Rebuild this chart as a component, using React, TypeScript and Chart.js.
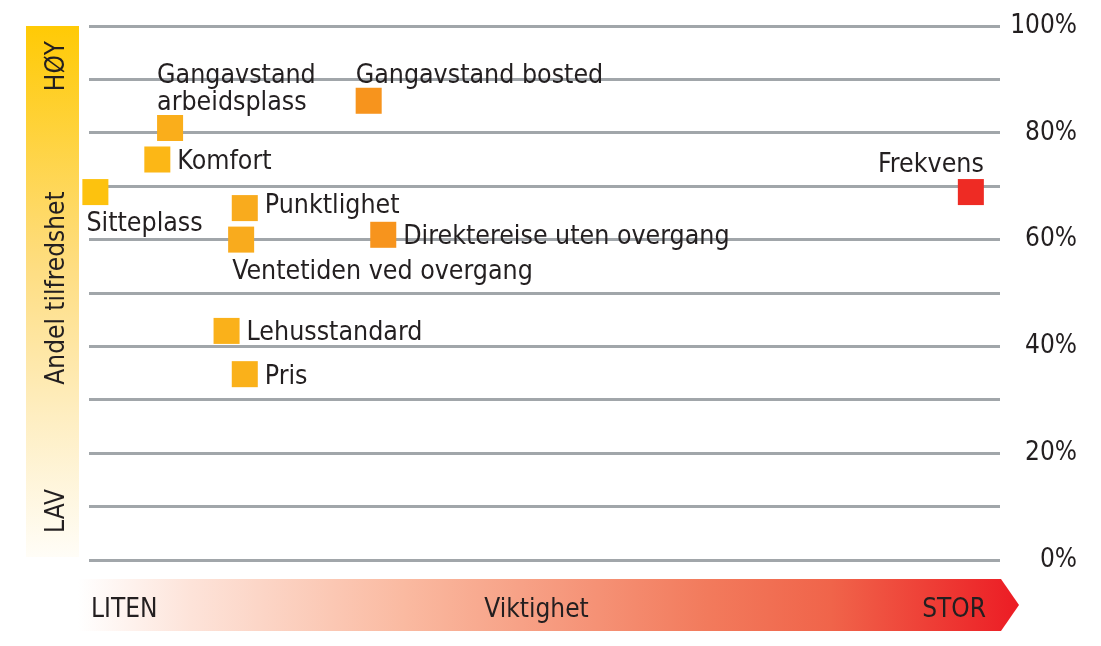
import React, { useEffect, useRef } from "react";
import { Chart, registerables } from "chart.js";

Chart.register(...registerables);

// ---- data ----
const categories = [
  "Sitteplass",
  "Komfort",
  "Gangavstand\narbeidsplass",
  "Gangavstand bosted",
  "Punktlighet",
  "Ventetiden ved overgang",
  "Direktereise uten overgang",
  "Lehusstandard",
  "Pris",
  "Frekvens",
];
const importance = [0.7, 7.5, 8.9, 30.7, 17.1, 16.7, 32.3, 15.1, 17.1, 96.8];
const satisfaction = [68.9, 75.0, 80.9, 86.0, 65.9, 60.0, 60.9, 42.9, 34.8, 68.9];
const labelPlacement = [
  "below",
  "right",
  "above",
  "above",
  "right-up",
  "below",
  "right",
  "right",
  "right",
  "above-end",
];
const pointColors = [
  "#FDC20E",
  "#FCB716",
  "#FAAE1B",
  "#F7941D",
  "#F9AB1D",
  "#F9AB1D",
  "#F7941D",
  "#FAB11A",
  "#FAB11A",
  "#EE2B24",
];
const yTicks = [0, 20, 40, 60, 80, 100];
const yAxisTitle = "Andel tilfredshet";
const yHigh = "HØY";
const yLow = "LAV";
const xAxisTitle = "Viktighet";
const xLow = "LITEN";
const xHigh = "STOR";

const FONT = '"DejaVu Sans Condensed", "DejaVu Sans", sans-serif';
const TEXT = "#231F20";

const decorPlugin = {
  id: "decor",
  beforeDraw(chart: any) {
    const ctx = chart.ctx as CanvasRenderingContext2D;
    const { top, bottom, left, right } = chart.chartArea;
    ctx.save();
    // left yellow bar
    const bx0 = 26, bx1 = 79;
    const g = ctx.createLinearGradient(0, top, 0, bottom - 3);
    g.addColorStop(0, "#FFCA05");
    g.addColorStop(0.45, "#FEDD80");
    g.addColorStop(0.72, "#FEEDBE");
    g.addColorStop(1, "#FFFDF7");
    ctx.fillStyle = g;
    ctx.fillRect(bx0, top, bx1 - bx0, bottom - 3 - top);
    // bottom arrow
    const ay0 = bottom + 19, ay1 = bottom + 71;
    const ax0 = 78, ax1 = right + 1, tip = right + 19;
    const g2 = ctx.createLinearGradient(ax0, 0, tip, 0);
    g2.addColorStop(0, "#FFFFFF");
    g2.addColorStop(0.12, "#FDE3D9");
    g2.addColorStop(0.35, "#FAB9A0");
    g2.addColorStop(0.67, "#F27A5C");
    g2.addColorStop(0.8, "#F0644A");
    g2.addColorStop(1, "#EC1C24");
    ctx.fillStyle = g2;
    ctx.beginPath();
    ctx.moveTo(ax0, ay0);
    ctx.lineTo(ax1, ay0);
    ctx.lineTo(tip, (ay0 + ay1) / 2);
    ctx.lineTo(ax1, ay1);
    ctx.lineTo(ax0, ay1);
    ctx.closePath();
    ctx.fill();

    ctx.fillStyle = TEXT;
    ctx.font = `26px ${FONT}`;
    ctx.textBaseline = "alphabetic";
    const by = bottom + 57;
    ctx.textAlign = "left";
    ctx.fillText(xLow, 91, by);
    ctx.textAlign = "center";
    ctx.fillText(xAxisTitle, (left + right) / 2 - 8, by);
    ctx.textAlign = "right";
    ctx.fillText(xHigh, 986, by);

    // rotated texts
    const rot = (t: string, cy: number) => {
      ctx.save();
      ctx.translate(64, cy);
      ctx.rotate(-Math.PI / 2);
      ctx.textAlign = "center";
      ctx.fillText(t, 0, 0);
      ctx.restore();
    };
    rot(yHigh, 66);
    rot(yAxisTitle, 288);
    rot(yLow, 511);
    ctx.restore();
  },
  afterDatasetsDraw(chart: any) {
    const ctx = chart.ctx as CanvasRenderingContext2D;
    const meta = chart.getDatasetMeta(0);
    ctx.save();
    ctx.fillStyle = TEXT;
    ctx.font = `26.5px ${FONT}`;
    ctx.textBaseline = "alphabetic";
    meta.data.forEach((pt: any, i: number) => {
      const lines = categories[i].split("\n");
      const p = labelPlacement[i];
      const x = pt.x, y = pt.y;
      const lh = 27;
      if (p === "right" || p === "right-up") {
        ctx.textAlign = "left";
        ctx.fillText(lines[0], x + 20, y + (p === "right" ? 9.5 : 5));
      } else if (p === "below") {
        ctx.textAlign = "left";
        ctx.fillText(lines[0], x - 9, y + 39);
      } else if (p === "above") {
        ctx.textAlign = "left";
        lines.forEach((l, k) => {
          ctx.fillText(l, x - 13, y - 18 - (lines.length - 1 - k) * lh);
        });
      } else if (p === "above-end") {
        ctx.textAlign = "right";
        ctx.fillText(lines[0], x + 13, y - 20);
      }
    });
    ctx.restore();
  },
};

export default function App() {
  const ref = useRef<HTMLCanvasElement>(null);
  useEffect(() => {
    if (!ref.current) return;
    const chart = new Chart(ref.current, {
      type: "scatter",
      data: {
        datasets: [
          {
            data: importance.map((v, i) => ({ x: v, y: satisfaction[i] })),
            pointStyle: "rect",
            pointRadius: 18.4,
            pointHoverRadius: 18.4,
            pointBackgroundColor: pointColors,
            pointBorderWidth: 0,
            borderWidth: 0,
            clip: false as any,
          },
        ],
      },
      options: {
        animation: false,
        responsive: false,
        events: [],
        layout: { padding: { left: 89, top: 26, right: 24, bottom: 86 } },
        plugins: { legend: { display: false }, tooltip: { enabled: false } },
        scales: {
          x: { type: "linear", min: 0, max: 100, display: false },
          y: {
            position: "right",
            min: 0,
            max: 100,
            afterFit: (s: any) => {
              s.width = 77;
            },
            border: { display: false },
            grid: { color: "#A1A6AA", lineWidth: 3, drawTicks: false },
            ticks: {
              stepSize: 10,
              autoSkip: false,
              padding: 10,
              crossAlign: "far",
              color: TEXT,
              font: { family: FONT, size: 26 },
              callback: (v: any) => (yTicks.includes(Number(v)) ? `${v}%` : ""),
            },
          },
        },
      },
      plugins: [decorPlugin],
    });
    return () => chart.destroy();
  }, []);
  return (
    <div style={{ position: "absolute", left: 0, top: 0, width: 1101, height: 646, background: "#fff" }}>
      <canvas ref={ref} width={1101} height={646} style={{ display: "block" }} />
    </div>
  );
}
